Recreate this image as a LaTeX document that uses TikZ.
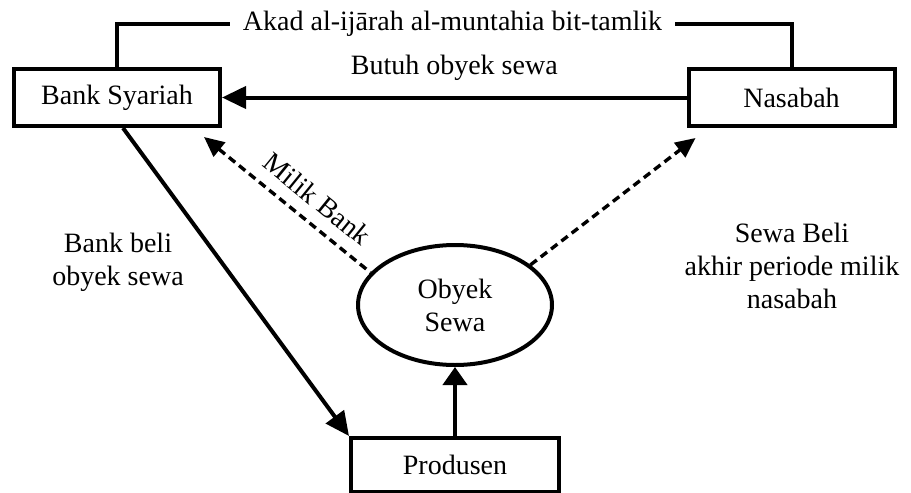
\documentclass[tikz,border=0pt]{standalone}
\usepackage{fontspec}
\setmainfont{Liberation Serif}
\usetikzlibrary{arrows.meta,shapes.geometric,calc}
\begin{document}
\begin{tikzpicture}[x=0.5pt,y=-0.5pt,
  txt/.style={font=\fontsize{14}{16.5}\selectfont,align=center,inner sep=0pt},
  box/.style={txt,draw,line width=2pt,minimum width=103pt,minimum height=28.5pt},
  conn/.style={line width=2pt},
  solidarrow/.style={line width=2pt,-{Triangle[length=12pt,width=11pt]}},
  dashline/.style={line width=1.7pt,dash pattern=on 4pt off 2.5pt}]
\useasboundingbox (0,0) rectangle (911,493);
\node[box] (bank) at (117,97.5) {Bank Syariah};
\node[box] (nas) at (791.5,97.5) {Nasabah};
\node[box,minimum width=104pt,minimum height=27pt] (prod) at (455,465) {Produsen};
\node[txt,draw,ellipse,line width=2pt,minimum width=97pt,minimum height=60pt] (obj) at (455,305) {Obyek\\Sewa};
\node[txt,inner xsep=6.5pt] (akad) at (452.5,24) {Akad al-ijārah al-muntahia bit-tamlik};
\draw[conn] (bank.north) |- (akad.west);
\draw[conn] (nas.north) |- (akad.east);
\draw[solidarrow] (nas.west) -- node[txt,above=7.5pt] (butuh) {Butuh obyek sewa} (bank.east);
\draw[solidarrow] ([xshift=3pt]bank.south) -- (prod.north west);
\draw[line width=2pt,-{Triangle[length=9pt,width=12pt]}] (prod.north) -- (obj.south);
\coordinate (mb) at ($(bank.south east)+(-18,9)$);
\coordinate (ns) at ($(nas.south west)+(9,10)$);
\draw[dashline,{Triangle[length=10pt,width=9pt]}-] (mb) -- node[txt,sloped,pos=0.59,above=6pt] (milik) {Milik Bank} (obj.159);
\draw[dashline,-{Triangle[length=10pt,width=9pt]}] (obj.28) -- (ns);
\node[txt] (bb) at (118,262) {Bank beli\\obyek sewa};
\node[txt] (sb) at (792,266) {Sewa Beli\\akhir periode milik\\nasabah};
\end{tikzpicture}
\end{document}
